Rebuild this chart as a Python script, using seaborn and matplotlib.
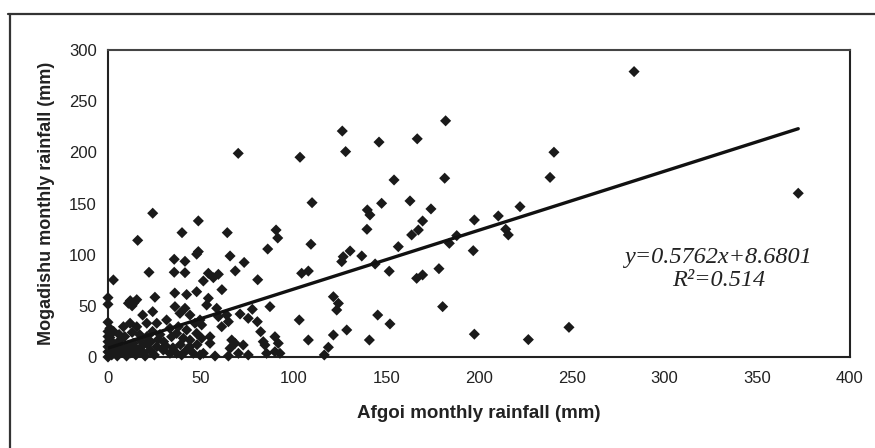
import matplotlib
matplotlib.use("Agg")
import matplotlib.pyplot as plt
from matplotlib.lines import Line2D
import numpy as np
import pandas as pd
import seaborn as sns

# ---- data ----
afgoi = [
    283.6, 372.1, 182.0, 126.3, 146.1, 166.7, 128.1, 103.5, 70.2, 240.4, 238.3, 181.5, 154.2,
    110.0, 147.5, 162.8, 174.1, 139.8, 141.2, 139.6, 169.6, 167.3, 163.7, 197.5, 222.1, 210.4,
    214.4, 215.8, 188.0, 184.0, 196.9, 109.4, 156.5, 130.5, 126.8, 126.0, 136.8, 144.0, 151.6,
    178.4, 166.4, 169.6, 104.4, 108.0, 121.5, 124.2, 123.3, 180.4, 103.1, 145.4, 152.0, 128.7,
    121.5, 118.8, 116.6, 108.0, 140.9, 197.5, 226.6, 248.5,
    24.1, 48.7, 16.0, 39.9, 64.3, 90.6, 91.5, 86.1, 35.7, 41.5, 47.8, 48.7, 65.8, 73.4, 68.6,
    22.1, 35.7, 41.5, 54.1, 59.5, 56.8, 51.4, 80.7, 2.9, 61.4, 36.0, 42.4, 47.8, 54.1, 53.2,
    0.0, 0.0, 0.0, 18.7, 24.1, 36.1, 41.5, 44.2, 38.8, 12.0, 14.0, 13.0, 15.5, 11.0, 25.3,
    11.9, 8.3, 15.5, 20.9, 26.3, 31.6, 33.4, 37.9, 37.0, 42.4, 40.6, 34.3, 44.2, 47.8, 46.9,
    49.6, 50.5, 58.6, 59.5, 64.0, 64.9, 61.3, 71.2, 75.6, 77.8, 80.5, 87.3, 82.3, 50.5, 55.0,
    55.0, 66.7, 68.5, 65.8, 72.9, 70.3, 83.7, 84.6, 90.0, 91.8, 90.0, 85.5, 92.7, 51.4, 57.7,
    64.9, 75.6,
    2.9, 6.5, 10.1, 13.6, 17.3, 20.9, 22.6, 26.3, 29.8, 33.4, 37.0, 39.7, 42.4, 46.0, 49.6,
    2.0, 5.0, 10.0, 15.0, 20.0, 25.0, 1.0, 4.0, 8.0, 12.0, 16.0, 18.0, 6.0, 3.0, 9.0, 13.0,
    17.0, 21.0, 24.0, 28.0, 30.0, 1.0, 1.0, 2.0, 5.0, 7.0, 3.0, 11.0, 14.0, 19.0, 23.0, 27.0,
    31.0, 35.0, 39.0, 44.0, 48.0, 0.0, 0.0, 0.0, 0.0, 0.0, 0.0,
]
mogadishu = [
    278.9, 160.0, 230.8, 220.8, 210.0, 213.2, 200.7, 195.2, 199.0, 200.1, 175.5, 174.7, 173.0,
    150.8, 150.2, 152.5, 144.7, 143.7, 138.8, 124.8, 132.9, 124.1, 119.3, 133.9, 146.9, 137.8,
    124.8, 119.3, 118.6, 111.1, 103.9, 110.2, 107.8, 103.6, 98.0, 93.2, 98.7, 90.9, 83.8,
    86.3, 76.9, 80.2, 81.8, 84.0, 58.9, 52.4, 45.9, 49.2, 36.2, 41.0, 32.3, 26.4,
    21.5, 9.5, 2.0, 16.6, 16.6, 22.3, 17.0, 29.0,
    140.5, 133.0, 114.0, 121.5, 121.5, 124.1, 116.3, 105.5, 95.5, 93.5, 100.5, 103.0, 98.7, 92.4, 84.1,
    82.8, 82.8, 82.4, 81.8, 80.8, 77.5, 74.3, 75.5, 75.3, 65.8, 62.5, 61.0, 63.8, 57.4, 50.8,
    58.0, 51.5, 34.0, 41.0, 44.3, 49.2, 47.6, 41.0, 42.7, 55.0, 53.0, 50.0, 56.0, 52.5, 58.4,
    33.0, 29.6, 29.6, 33.0, 33.0, 36.2, 28.0, 29.6, 23.1, 26.4, 18.3, 19.8, 16.6, 23.1, 33.0,
    36.2, 31.3, 47.6, 39.4, 41.0, 34.5, 29.6, 42.0, 37.8, 46.6, 34.5, 49.2, 24.7, 18.3, 19.8,
    13.4, 16.6, 13.4, 8.5, 11.7, 3.6, 15.0, 11.7, 19.8, 13.4, 5.2, 3.6, 3.6, 3.6, 1.0,
    1.0, 2.0,
    13.4, 16.6, 10.1, 13.4, 16.6, 13.4, 6.8, 10.1, 6.8, 3.6, 3.6, 2.0, 6.8, 3.6, 2.0,
    2.0, 1.0, 1.0, 2.0, 1.0, 2.0, 6.0, 8.0, 5.0, 4.0, 7.0, 10.0, 22.0, 25.0, 20.0, 24.0,
    22.0, 20.0, 25.0, 22.0, 15.0, 19.0, 28.0, 10.0, 12.0, 9.0, 4.0, 7.0, 10.0, 4.0, 15.0, 17.0,
    11.0, 9.0, 12.0, 10.0, 12.0, 0.0, 5.0, 10.0, 15.0, 20.0, 25.0,
]
slope = 0.5762
intercept = 8.6801
r_squared = 0.514
x_ticks = [0, 50, 100, 150, 200, 250, 300, 350, 400]
y_ticks = [0, 50, 100, 150, 200, 250, 300]
x_label = "Afgoi monthly rainfall (mm)"
y_label = "Mogadishu monthly rainfall (mm)"

df = pd.DataFrame({"afgoi": afgoi, "mogadishu": mogadishu})

sns.set_theme(style="white")
plt.rcParams["font.family"] = ["Liberation Sans", "DejaVu Sans"]

fig = plt.figure(figsize=(8.75, 4.48), dpi=100)
fig.patch.set_facecolor("white")
W, H = 875, 448
left, right, top, bottom = 108, 850, 50, 357
ax = fig.add_axes([left / W, 1 - bottom / H, (right - left) / W, (bottom - top) / H])

sns.scatterplot(data=df, x="afgoi", y="mogadishu", ax=ax, marker="D", s=32,
                color="#1a1a1a", edgecolor="none", linewidth=0, clip_on=False, zorder=3)

trend_x = np.array([0.0, max(afgoi)])
sns.lineplot(x=trend_x, y=slope * trend_x + intercept, ax=ax, color="#111111",
             linewidth=2.4, zorder=4)

ax.set_xlim(0, 400)
ax.set_ylim(0, 300)
ax.set_xticks(x_ticks)
ax.set_yticks(y_ticks)
ax.tick_params(axis="both", which="major", direction="out", length=4, width=1,
               color="#333333", labelsize=12, labelcolor="#222222", pad=4)
ax.tick_params(axis="x", pad=6)
for sp in ax.spines.values():
    sp.set_visible(True)
    sp.set_color("#222222")
    sp.set_linewidth(1.5)
ax.spines["top"].set_color("#444444")

ax.set_xlabel(x_label, fontsize=13.5, fontweight="bold", color="#222222", labelpad=14)
ax.set_ylabel(y_label, fontsize=13, fontweight="bold", color="#222222", labelpad=10)

ax.text(329, 97, f"y={slope}x+{intercept:.4f}", ha="center", va="center",
        fontsize=17.5, fontstyle="italic", family=["Liberation Serif", "DejaVu Serif"],
        color="#222222")
ax.text(329, 75, f"R\u00b2={r_squared}", ha="center", va="center",
        fontsize=17.5, fontstyle="italic", family=["Liberation Serif", "DejaVu Serif"],
        color="#222222")

# outer chart frame (top and left edges visible)
fig.add_artist(Line2D([8 / W, 1.0], [1 - 14 / H, 1 - 14 / H], transform=fig.transFigure,
                      color="#333333", linewidth=1.6))
fig.add_artist(Line2D([10 / W, 10 / W], [0.0, 1 - 14 / H], transform=fig.transFigure,
                      color="#333333", linewidth=1.6))

fig.savefig("out.png", dpi=100, facecolor="white")
